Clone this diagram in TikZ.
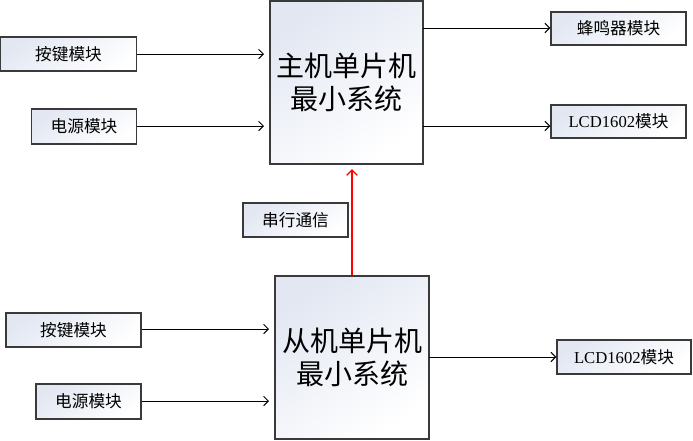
\documentclass[tikz,border=0pt]{standalone}
\usepackage{fontspec}
\setmainfont{Liberation Serif}
\newfontfamily\cjk{Noto Sans CJK SC}
\usetikzlibrary{arrows.meta}
\definecolor{boxshade}{HTML}{E2E7F2}
\definecolor{edgegray}{HTML}{3A3A3A}
\tikzset{
  px/.style={x=0.75pt,y=-0.75pt},
  modbox/.style={draw=edgegray, line width=1.1pt, inner sep=0pt,
    top color=boxshade, bottom color=white, shading angle=35,
    font=\cjk\fontsize{12.5}{14}\selectfont},
  bigbox/.style={modbox, font=\cjk\fontsize{21}{23}\selectfont, align=center},
  conn/.style={draw=black, line width=0.75pt, -{Straight Barb[length=3.5pt,width=7pt]}},
  redconn/.style={draw=red, line width=1pt, -{Straight Barb[length=4pt,width=8pt]}}
}
\begin{document}
\begin{tikzpicture}[px]
\useasboundingbox (0,0) rectangle (693,440);
% master side
\node[modbox, minimum width=102pt, minimum height=25.5pt] (k1) at (68.5,54) {按键模块};
\node[modbox, minimum width=78.75pt, minimum height=26.25pt] (p1) at (84,126.5) {电源模块};
\node[bigbox, minimum width=114.75pt, minimum height=122.25pt] (main) at (346.5,82.5) {主机单片机\\[2pt]最小系统};
\node[modbox, minimum width=101.25pt, minimum height=24.75pt] (buzz) at (618.5,28.5) {蜂鸣器模块};
\node[modbox, minimum width=101.25pt, minimum height=24.75pt] (lcd1) at (618.5,121.5) {{\rmfamily LCD1602}模块};
% serial label
\node[modbox, minimum width=78.75pt, minimum height=25.5pt] (ser) at (295.5,220) {串行通信};
% slave side
\node[bigbox, minimum width=115.5pt, minimum height=122.25pt] (slave) at (352,357.5) {从机单片机\\[2pt]最小系统};
\node[modbox, minimum width=101.25pt, minimum height=25.5pt] (k2) at (73.5,330) {按键模块};
\node[modbox, minimum width=78.75pt, minimum height=26.25pt] (p2) at (88.5,401.5) {电源模块};
\node[modbox, minimum width=100.5pt, minimum height=25.5pt] (lcd2) at (624,357) {{\rmfamily LCD1602}模块};
% connector end points
\coordinate (t1) at (264,54);
\coordinate (t2) at (264,126);
\coordinate (s1) at (423,28);
\coordinate (s2) at (423,126);
\coordinate (t3) at (269,329);
\coordinate (t4) at (269,401);
\coordinate (s3) at (429,357);
\coordinate (rt) at (352,169);
% connectors
\draw[conn] (k1.east) -- (t1);
\draw[conn] (p1.east |- t2) -- (t2);
\draw[conn] (s1) -- (buzz.west |- s1);
\draw[conn] (s2) -- (lcd1.west |- s2);
\draw[conn] (k2.east |- t3) -- (t3);
\draw[conn] (p2.east |- t4) -- (t4);
\draw[conn] (s3) -- (lcd2.west |- s3);
\draw[redconn] (slave.north) -- (rt);
\end{tikzpicture}
\end{document}
